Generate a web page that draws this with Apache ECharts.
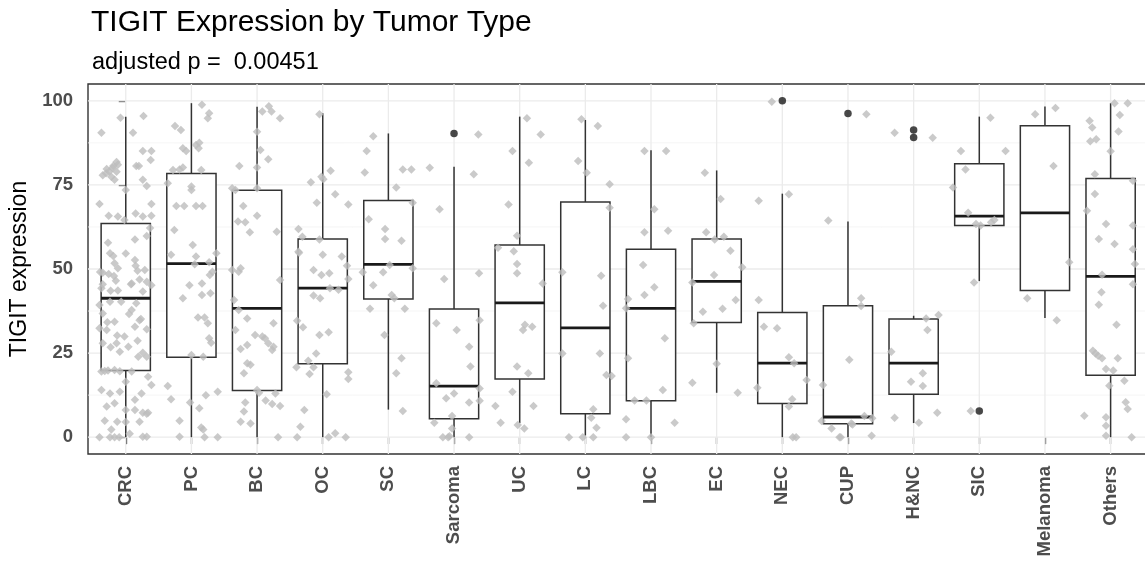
<!DOCTYPE html>
<html>
<head>
<meta charset="utf-8">
<script src="https://cdn.jsdelivr.net/npm/echarts@6/dist/echarts.min.js"></script>
<style>
  html, body { margin: 0; padding: 0; background: #ffffff; }
  #chart { width: 1145px; height: 567px; }
</style>
</head>
<body>
<div id="chart"></div>
<script>
// Tumor types on the x axis
const categories = ['CRC', 'PC', 'BC', 'OC', 'SC', 'Sarcoma', 'UC', 'LC', 'LBC', 'EC',
  'NEC', 'CUP', 'H&NC', 'SIC', 'Melanoma', 'Others'];

// Axis ticks
const yTicks = [0, 25, 50, 75, 100];
const yMinorTicks = [12.5, 37.5, 62.5, 87.5];

// Box summaries per tumor type
const whiskerLow  = [0, 0, 0, 0, 8.2, 0, 4.2, 0.5, 0, 13.2, 0, 0, 4.2, 46.4, 35.4, 0];
const quartile1   = [19.8, 23.8, 13.9, 21.8, 41.1, 5.5, 17.3, 7.0, 10.8, 34.1, 10.0, 4.0, 12.8, 62.9, 43.6, 18.4];
const medians     = [41.3, 51.6, 38.3, 44.3, 51.4, 15.2, 39.9, 32.5, 38.3, 46.3, 22.0, 6.0, 22.0, 65.7, 66.7, 47.8];
const quartile3   = [63.5, 78.4, 73.4, 58.9, 70.4, 38.1, 57.1, 69.9, 55.9, 58.9, 37.1, 39.1, 35.1, 81.3, 92.6, 76.9];
const whiskerHigh = [95.3, 99.3, 98.2, 96.3, 90.3, 80.4, 95.3, 94.3, 85.3, 79.3, 72.4, 64.1, 36.1, 95.3, 98.3, 99.3];

// Outliers: [category index, TIGIT expression]
const outliers = [[5, 90.3], [10, 100], [11, 96.2], [12, 91.3], [12, 89.1], [13, 7.8]];

// Individual samples (values) and their horizontal jitter (fraction of a category step)
const valsCRC = [95.0, 95.5, 90.5, 90.5, 85.1, 85.1, 82.4, 80.6, 80.6, 81.8, 80.6, 79.7, 77.9, 77.4, 78.9, 76.5,
  79.0, 80.0, 78.5, 81.0, 73.5, 74.7, 76.5, 69.3, 69.3, 65.8, 65.6, 66.5, 65.6, 65.8, 64.6, 57.8, 58.8, 59.8, 62.2,
  54.7, 53.9, 54.6, 52.7, 51.7, 50.2, 48.9, 48.5, 47.9, 49.7, 46.9, 46.2, 45.2, 45.7, 43.3, 44.3, 43.6, 40.3, 40.3,
  39.8, 39.3, 36.8, 37.8, 34.8, 34.3, 32.4, 31.9, 32.8, 32.1, 29.9, 27.9, 27.9, 26.9, 25.1, 23.9, 23.9, 25.4, 19.5,
  19.7, 19.8, 20.0, 19.6, 19.5, 18.0, 16.5, 15.5, 14.0, 13.0, 13.5, 13.0, 11.1, 9.1, 10.1, 8.1, 8.1, 7.3, 7.0, 7.3,
  4.9, 4.6, 4.5, 4.6, 2.3, 0, 0, 0, 1.0, 0.1, 0.1, 0, 49.1, 45.5, 51.0, 49.5, 45.5, 46.5, 43.5, 36.6, 35.1, 34.2,
  30.2, 28.7, 26.7];
const jitCRC = [-0.08, 0.27, -0.37, 0.11, 0.26, 0.39, 0.38, 0.16, 0.20, -0.14, -0.19, -0.29, -0.35, -0.22, -0.14, -0.17,
  -0.25, -0.20, -0.30, -0.12, 0.00, 0.32, 0.26, -0.40, 0.39, -0.26, -0.12, 0.15, 0.26, 0.39, -0.02, -0.27, 0.14, 0.32, 0.37,
  -0.24, -0.19, 0.00, 0.14, -0.17, -0.12, -0.35, -0.26, -0.18, 0.29, 0.21, 0.32, 0.39, 0.09, 0.26, -0.37, -0.12, -0.24, -0.07,
  0.16, -0.40, -0.35, 0.09, 0.21, -0.17, -0.40, -0.29, 0.14, 0.32, -0.02, -0.14, -0.35, 0.04, 0.26, 0.19, 0.32, -0.09, -0.37,
  -0.32, -0.27, -0.17, -0.09, 0.09, 0.34, 0.00, 0.39, -0.37, -0.24, -0.09, 0.24, 0.14, -0.29, -0.17, 0.00, 0.14, 0.26, 0.32, 0.34,
  -0.32, -0.13, 0.00, 0.21, -0.22, -0.24, -0.17, -0.10, 0.06, 0.26, 0.32, -0.40, -0.39, -0.35, 0.15, 0.18, 0.08, -0.15, -0.23, 0.05, 0.23, -0.28,
  -0.13, 0.18, -0.23];

const valsPC = [92.5, 91.3, 98.8, 96.3, 94.8, 85.9, 85.1, 86.9, 87.5, 85.9, 79.4, 79.6, 80.2, 79.4, 75.5, 74.5, 73.5,
  68.7, 68.7, 68.7, 68.7, 61.6, 57.1, 54.2, 53.7, 54.7, 51.4, 52.0, 49.2, 48.2, 45.7, 45.2, 42.8, 41.3, 42.3, 35.6,
  35.6, 33.9, 29.4, 28.1, 24.4, 23.9, 15.2, 11.3, 10.3, 8.6, 12.5, 13.5, 4.9, 2.9, 2.3, 0.1, 0, 0];
const jitPC = [-0.25, -0.16, 0.16, 0.27, 0.25, -0.13, -0.08, 0.07, 0.12, 0.11, -0.28, -0.18, -0.13, 0.15, -0.36, 0.00, 0.00,
  -0.23, -0.11, 0.07, 0.17, -0.26, 0.02, -0.31, 0.07, 0.38, 0.05, 0.27, 0.32, 0.28, 0.16, -0.03, 0.29, -0.13, 0.16, 0.10,
  0.20, 0.25, 0.27, 0.30, 0.00, 0.18, -0.36, -0.31, -0.02, 0.12, 0.22, 0.40, -0.18, 0.15, 0.18, -0.18, 0.20, 0.40];

const valsBC = [96.8, 98.4, 96.8, 94.8, 90.8, 85.4, 82.6, 80.6, 80.2, 74.0, 73.5, 74.0, 68.7, 64.1, 65.8, 63.9, 61.1,
  49.7, 49.2, 50.2, 46.7, 40.8, 37.8, 35.3, 33.9, 31.9, 30.4, 29.9, 29.4, 27.9, 26.9, 27.4, 25.9, 22.0, 21.5, 19.0,
  14.0, 13.2, 13.0, 10.3, 10.9, 9.9, 9.3, 7.6, 4.6, 4.1, 0, 60.9, 26.2];
const jitBC = [0.08, 0.18, 0.22, 0.35, 0.00, 0.05, 0.17, -0.27, 0.00, -0.38, -0.33, 0.00, -0.21, -0.29, 0.00, -0.18, 0.30,
  -0.38, -0.28, -0.25, 0.35, -0.35, -0.28, -0.15, 0.25, -0.33, -0.03, 0.08, 0.12, 0.17, 0.25, -0.15, 0.23, -0.15, -0.10, -0.20,
  0.00, 0.03, 0.28, -0.18, 0.13, 0.23, 0.35, -0.20, -0.25, -0.10, 0.32, -0.11, -0.25];

const valsOC = [96.0, 75.8, 77.4, 76.7, 79.2, 69.7, 72.2, 69.2, 61.9, 59.6, 58.8, 55.1, 54.8, 54.2, 53.7, 51.0, 49.7,
  48.2, 48.7, 47.0, 44.3, 43.8, 42.1, 41.3, 34.6, 32.7, 31.2, 30.4, 24.9, 22.7, 20.8, 20.8, 18.8, 19.3, 17.3, 12.8,
  8.1, 3.1, 1.2, 0, 0, 0];
const jitOC = [-0.05, -0.18, -0.02, 0.01, 0.12, -0.09, 0.19, 0.39, -0.37, -0.31, -0.05, -0.37, -0.36, 0.00, 0.29, 0.37, -0.14,
  -0.02, 0.10, 0.39, 0.11, 0.24, -0.14, -0.04, -0.39, -0.30, 0.09, -0.05, -0.10, -0.22, -0.40, -0.14, -0.20, 0.39, 0.39, 0.06,
  -0.28, -0.34, 0.19, 0.09, 0.35, -0.39];

const valsSC = [89.5, 85.1, 78.7, 79.6, 79.6, 74.2, 69.7, 64.8, 61.9, 58.9, 58.4, 49.0, 49.0, 51.2, 50.2, 45.2, 42.3,
  41.3, 38.2, 38.2, 30.4, 23.5, 19.0, 7.8];
const jitSC = [-0.23, -0.33, -0.36, 0.22, 0.35, 0.12, 0.37, -0.30, -0.05, -0.05, 0.20, -0.39, -0.08, 0.02, 0.37, -0.23, 0.05,
  0.09, -0.28, 0.25, -0.06, 0.20, 0.12, 0.22];

const valsSarcoma = [80.1, 67.8, 90.0, 78.2, 47.0, 48.7, 33.9, 31.9, 26.9, 21.0, 34.8, 16.0, 11.6, 13.0, 10.3, 14.5,
  10.8, 4.3, 6.3, 2.6, 0, 0, 0.3, 0];
const jitSarcoma = [-0.37, -0.22, 0.37, 0.30, -0.15, 0.38, -0.27, 0.04, 0.23, 0.25, 0.39, -0.27, -0.12, 0.00, 0.23, 0.39,
  0.39, -0.30, -0.03, -0.03, -0.17, -0.09, -0.07, 0.23];

const valsUC = [94.8, 90.0, 85.1, 81.6, 69.2, 59.9, 56.3, 55.3, 51.5, 48.7, 45.7, 33.4, 32.8, 31.9, 21.0, 19.0, 13.5,
  9.3, 9.3, 4.3, 3.6, 2.6];
const jitUC = [0.11, 0.32, -0.11, 0.14, -0.17, -0.04, -0.33, -0.09, -0.04, -0.04, 0.35, 0.08, 0.19, 0.05, -0.04, 0.13, -0.11,
  -0.37, 0.21, -0.29, -0.03, 0.07];

const valsLC = [94.5, 92.5, 82.1, 78.6, 75.2, 68.2, 49.0, 48.0, 39.1, 24.9, 24.9, 18.5, 18.2, 8.3, 5.8, 2.8, 0, 0, 0];
const jitLC = [-0.06, 0.19, -0.11, 0.02, 0.37, 0.37, -0.35, 0.24, 0.27, -0.35, 0.22, 0.32, 0.40, 0.12, 0.09, 0.17, -0.25,
  -0.04, 0.12];

const valsLBC = [85.1, 85.1, 67.8, 60.9, 61.4, 51.2, 44.6, 42.3, 41.1, 38.3, 29.4, 23.5, 14.0, 10.9, 10.9, 5.3, 4.3, 0, 0];
const jitLBC = [-0.10, 0.23, 0.05, -0.10, 0.26, -0.12, 0.05, -0.10, -0.35, -0.38, 0.21, -0.35, 0.18, -0.25, -0.07, -0.38,
  0.36, -0.38, 0.00];

const valsEC = [78.6, 70.8, 60.9, 58.8, 59.6, 55.4, 50.5, 48.2, 46.0, 40.8, 38.2, 37.3, 33.9, 21.8, 16.2, 13.2];
const jitEC = [-0.18, 0.06, -0.16, -0.03, 0.11, 0.21, 0.39, -0.04, -0.37, 0.29, 0.09, -0.21, -0.35, 0.00, -0.37, 0.32];

const valsNEC = [99.7, 72.2, 70.3, 40.8, 32.8, 32.4, 23.8, 22.0, 17.0, 14.7, 11.3, 9.1, 0, 0];
const jitNEC = [-0.16, 0.10, -0.36, -0.36, -0.28, -0.08, 0.10, 0.18, 0.37, -0.38, 0.15, 0.10, 0.16, 0.21];

const valsCUP = [96.0, 64.4, 41.3, 39.0, 23.0, 15.5, 4.8, 2.6, 0, 3.8, 6.3, 5.6, 4.1, 0.4, 0];
const jitCUP = [0.28, -0.30, 0.20, 0.20, 0.02, -0.38, -0.40, -0.25, -0.13, 0.07, 0.25, 0.37, 0.05, 0.36, -0.11];

const valsHNC = [90.5, 89.0, 36.3, 35.3, 31.9, 25.4, 19.0, 16.5, 15.2, 7.3, 5.8, 4.3];
const jitHNC = [-0.29, 0.29, 0.38, 0.19, 0.21, -0.34, 0.14, -0.04, 0.14, 0.36, -0.29, 0.08];

const valsSIC = [95.0, 85.1, 85.1, 79.6, 74.2, 66.7, 63.4, 62.9, 63.9, 64.6, 46.0, 7.8];
const jitSIC = [0.17, -0.28, 0.40, -0.21, -0.40, -0.17, -0.05, 0.02, 0.18, 0.23, -0.08, -0.13];

const valsMelanoma = [96.0, 97.9, 80.6, 52.0, 41.3, 34.8];
const jitMelanoma = [-0.15, 0.16, 0.13, 0.37, -0.27, 0.18];

const valsOthers = [99.3, 99.3, 95.8, 94.1, 92.1, 90.9, 88.0, 88.6, 85.0, 78.2, 76.2, 72.3, 67.3, 63.4, 62.9, 58.9, 57.4,
  55.9, 51.5, 48.3, 45.5, 43.1, 39.4, 33.4, 25.7, 24.9, 24.2, 23.5, 23.5, 20.3, 19.8, 16.8, 15.3, 10.4, 8.4, 6.4, 5.9,
  3.4, 0.4, 0];
const jitOthers = [0.06, 0.26, 0.14, -0.32, -0.28, 0.12, -0.31, -0.22, 0.00, -0.24, 0.34, -0.24, -0.36, -0.07, 0.34, -0.18,
  0.06, 0.34, 0.37, -0.13, 0.34, -0.14, -0.18, 0.09, -0.27, -0.23, -0.19, -0.13, 0.11, -0.07, 0.04, 0.21, -0.02, 0.23, 0.26,
  -0.40, -0.07, -0.07, -0.07, 0.32];

const sampleSets = [
  [valsCRC, jitCRC], [valsPC, jitPC], [valsBC, jitBC], [valsOC, jitOC], [valsSC, jitSC],
  [valsSarcoma, jitSarcoma], [valsUC, jitUC], [valsLC, jitLC], [valsLBC, jitLBC], [valsEC, jitEC],
  [valsNEC, jitNEC], [valsCUP, jitCUP], [valsHNC, jitHNC], [valsSIC, jitSIC], [valsMelanoma, jitMelanoma],
  [valsOthers, jitOthers]
];

// ---- build series data ----
const catIdx = categories.map((_, i) => i);
const boxData = categories.map((_, i) =>
  [i, whiskerLow[i], quartile1[i], medians[i], quartile3[i], whiskerHigh[i]]);
const sampleData = [];
sampleSets.forEach(([vals, jit], i) => {
  vals.forEach((v, k) => sampleData.push([i + jit[k], v]));
});
// grid lines: [kind, value]  kind 0 = major horizontal, 1 = minor horizontal, 2 = vertical
const gridLineData = []
  .concat(yTicks.map(v => [0, v]))
  .concat(yMinorTicks.map(v => [1, v]))
  .concat(catIdx.map(i => [2, i]));

const FONT = "'Liberation Sans', Arial, Helvetica, sans-serif";
const chart = echarts.init(document.getElementById('chart'), null, { renderer: 'canvas' });

chart.setOption({
  animation: false,
  backgroundColor: '#ffffff',
  title: [
    {
      text: 'TIGIT Expression by Tumor Type',
      left: 86, top: 3,
      textStyle: { fontFamily: FONT, fontSize: 30, fontWeight: 'normal', color: '#000000' }
    },
    {
      text: 'adjusted p =  0.00451',
      left: 87, top: 46,
      textStyle: { fontFamily: FONT, fontSize: 23.5, fontWeight: 'normal', color: '#000000' }
    }
  ],
  grid: {
    left: 88, top: 84, width: 1062, height: 370,
    show: true, borderColor: '#333333', borderWidth: 1.4, backgroundColor: 'transparent',
    containLabel: false, outerBoundsMode: 'none'
  },
  xAxis: {
    type: 'value', min: -0.575, max: 15.6,
    axisLine: { show: false },
    splitLine: { show: false },
    axisTick: { show: true, customValues: catIdx, length: 7, lineStyle: { color: '#333333', width: 1.3 } },
    axisLabel: {
      customValues: catIdx, rotate: 90, margin: 12,
      fontFamily: FONT, fontSize: 18.5, fontWeight: 'bold', color: '#4D4D4D',
      formatter: v => categories[Math.round(v)]
    }
  },
  yAxis: {
    type: 'value', min: -5, max: 105,
    name: 'TIGIT expression', nameLocation: 'middle', nameGap: 48,
    nameTextStyle: { fontFamily: FONT, fontSize: 23, color: '#000000' },
    axisLine: { show: false },
    splitLine: { show: false },
    axisTick: { show: true, customValues: yTicks, length: 7, lineStyle: { color: '#333333', width: 1.3 } },
    axisLabel: {
      customValues: yTicks, margin: 15,
      fontFamily: FONT, fontSize: 18.5, fontWeight: 'bold', color: '#4D4D4D'
    }
  },
  series: [
    {
      // panel grid lines
      type: 'custom', z: 1, silent: true, clip: true,
      data: gridLineData,
      encode: { x: 1, y: 1 },
      renderItem: (params, api) => {
        const cs = params.coordSys;
        const kind = api.value(0);
        const v = api.value(1);
        if (kind === 2) {
          const x = api.coord([v, 0])[0];
          return { type: 'line', shape: { x1: x, y1: cs.y, x2: x, y2: cs.y + cs.height },
                   style: { stroke: '#EBEBEB', lineWidth: 1.3 } };
        }
        const y = api.coord([0, v])[1];
        return { type: 'line', shape: { x1: cs.x, y1: y, x2: cs.x + cs.width, y2: y },
                 style: { stroke: kind === 0 ? '#EBEBEB' : '#F2F2F2', lineWidth: kind === 0 ? 1.3 : 0.8 } };
      }
    },
    {
      // boxes, whiskers and medians
      type: 'custom', z: 2, silent: true,
      data: boxData,
      encode: { x: 0, y: [1, 2, 3, 4, 5] },
      renderItem: (params, api) => {
        const i = api.value(0);
        const lo = api.coord([i, api.value(1)]);
        const b1 = api.coord([i, api.value(2)]);
        const md = api.coord([i, api.value(3)]);
        const b3 = api.coord([i, api.value(4)]);
        const hi = api.coord([i, api.value(5)]);
        const half = api.size([0.75, 0])[0] / 2;
        const ls = { stroke: '#333333', lineWidth: 1.5 };
        return {
          type: 'group',
          children: [
            { type: 'line', shape: { x1: lo[0], y1: lo[1], x2: b1[0], y2: b1[1] }, style: ls },
            { type: 'line', shape: { x1: b3[0], y1: b3[1], x2: hi[0], y2: hi[1] }, style: ls },
            { type: 'rect', shape: { x: b1[0] - half, y: b3[1], width: 2 * half, height: b1[1] - b3[1] },
              style: { fill: '#ffffff', stroke: '#333333', lineWidth: 1.5 } },
            { type: 'line', shape: { x1: md[0] - half, y1: md[1], x2: md[0] + half, y2: md[1] },
              style: { stroke: '#1A1A1A', lineWidth: 2.8 } }
          ]
        };
      }
    },
    {
      // outliers
      type: 'scatter', z: 3, silent: true,
      data: outliers,
      symbol: 'circle', symbolSize: 7.5,
      itemStyle: { color: '#1A1A1A' }
    },
    {
      // jittered samples
      type: 'scatter', z: 4, silent: true,
      data: sampleData,
      symbol: 'diamond', symbolSize: 8.5,
      itemStyle: { color: '#BDBDBD' }
    }
  ]
});
</script>
</body>
</html>
